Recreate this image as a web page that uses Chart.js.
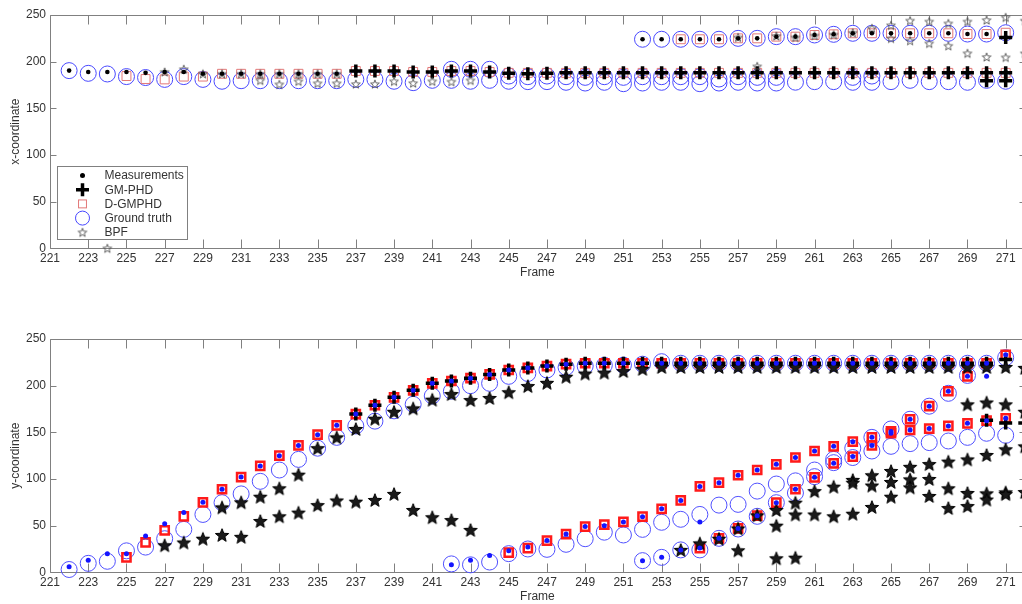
<!DOCTYPE html>
<html>
<head>
<meta charset="utf-8">
<script src="https://cdn.jsdelivr.net/npm/chart.js@4.4.1/dist/chart.umd.min.js"></script>
<style>
  html, body { margin: 0; padding: 0; background: #fff; overflow: hidden; width: 1022px; height: 604px; }
  canvas { position: absolute; left: 0; display: block; }
  #xPanel { top: 0; }
  #yPanel { top: 302px; }
</style>
</head>
<body>
<canvas id="xPanel" width="1040" height="302"></canvas>
<canvas id="yPanel" width="1040" height="310"></canvas>
<script>
// ---------- axis ticks ----------
const frameTicks = [221, 223, 225, 227, 229, 231, 233, 235, 237, 239, 241, 243, 245,
                    247, 249, 251, 253, 255, 257, 259, 261, 263, 265, 267, 269, 271];
const valueTicks = [0, 50, 100, 150, 200, 250];
const seriesNames = ['Measurements', 'GM-PHD', 'D-GMPHD', 'Ground truth', 'BPF'];

// ---------- x-coordinate panel (each array starts at the frame given next to it) ----------
const xTruthA = [190.4, 187.5, 186.8, 184, 183, 181, 184, 181, 179, 179.6,
                 179.6, 179.6, 179.6, 179.6, 179.6, 181, 181, 179, 177.5, 180,
                 180, 179, 180, 179, 178.6, 178.6, 177.9, 177.1, 177.9, 176.4,
                 177.1, 177.9, 177.9, 176.4, 177.1, 177.9, 177.1, 177.1, 178, 178.6,
                 178.6, 177.9, 177.9, 178.6, 180, 178.6, 178.6, 177.9, 180, 179];      // from 222
const xTruthA2 = [191.8, 191.8, 191.8, 184.6, 183.9, 184.6, 183.9, 183.2, 183.9, 183.2,
                  183.9, 183.9, 183.9, 183.9, 181.4, 183.9, 183.2, 183.2, null, null,
                  null, 183.2, 184.6];                                                  // from 242
const xTruthB = [224, 224, 224, 224, 224, 225, 225, 226.8, 226.8, 228.6,
                 229.3, 230.4, 230.4, 230.4, 230.4, 230.4, 230.4, 229.6, 229.6, 231];  // from 252
const xMeasA = [190.4, 189, 189, 189, 188, 189, 189, 187, 187, 187,
                187, 187, 187, 187, 187, 190, 190, 190, 189, 189,
                190, 190, 189, 187.5, 187, 187.5, 188, 188, 188, 188,
                188, 188, 188, 188, 188, 188, 189, 188, 188, 188,
                188, 188, 188, 188, 188, 188, 188, 188, 189, 189];                    // from 222
const xMeasB = [224, 224, 224, 224, 224, 225, 225, 226.8, 226.8, 228.6,
                229.3, 230.4, 230.4, 230.4, 230.4, 230.4, 230.4, 229.6, 229.6, 226];   // from 252
const xDgmA = [184.6, 181.4, 181, 184, 184, 187, 187, 187, 187, 187,
               187, 187, 190, 190, 190, 189, 189, 190, 190, 189,
               188, 188, 188, 188, 188, 188, 188, 188, 188, 188,
               188, 188, 188, 188, 188, 188, 188, 188, 188, 188,
               188, 188, 188, 188, 188, 188, 188];                                     // from 225
const xDgmB = [224, 224, 224, 225, 225, 226.8, 226.8, 228.6, 229.3, 230.4,
               230.4, 230.4, 230.4, 230.4, 230.4, 229.6, 229.6, 231];                  // from 254
const xGmA = [190, 190, 190, 189, 189, 190, 190, 189, 187.5, 187,
              187.5, 188, 188, 188, 188, 188, 188, 188, 188, 188,
              188, 188, 188, 188, 188, 188, 188, 188, 188, 188,
              188, 188, 188, 188, 188];                                                 // from 237
const xGmA2 = [179.6, 179.6];                                                           // from 270
const xGmB = [226];                                                                     // from 271
const xBpfLow = [180, 175.7, 179, 176.8, 176.8, 176, 176, 179, 177, 179, 178.6, 180];  // from 232
const xBpfMid = [0, null, null, 189, 192, 187, 187, 187, 187, 187, 187, 187, 187];     // from 224
const xBpfLone = [195];                                                                 // from 258
const xBpfUp = [226, null, 227.5, 226, 228, 229, 231, 235.7, 239, 244,
                243, 241, 243, 244.6, 247.5, 244];                                      // from 257
const xBpfUp2 = [225, 222.5, 219.6, 217, 209, 205, 204.6, 209];                         // from 265

// ---------- y-coordinate panel ----------
const yTruth1 = [3, 9.6, 11.8, 23, 27, 36, 46, 62, 74.6, 84,
                 97.5, 109.6, 121, 133, 144.6, 156.8, 162, 173, 180, 189,
                 194, 200, 202.5, 210, 213, 216.8, 219.6, 221, 221.8, 222,
                 223, 225.7, 224, 224, 224, 224, 224, 224, 224, 224,
                 224, 224, 224, 224, 224, 224, 224, 224, 224, 230];                     // from 222
const yMeas1 = [6, 13, 20, 20, 39, 52, 64, 75, 89, 102,
                114, 125, 136, 147.5, 157.5, 169.6, 179, 187.5, 195, 202.5,
                205, 208, 212, 216.8, 219, 221, 223, 224, 224, 224,
                224, 224, 224, 224, 224, 224, 224, 224, 224, 224,
                224, 224, 224, 224, 224, 224, 224, 224, 224, 233];                      // from 222
const yDgm1 = [16, 32, 45, 60, 75, 89, 102,
               114, 125, 136, 147.5, 157.5, 169.6, 179, 187.5, 195, 202.5,
               205, 208, 212, 216.8, 219, 221, 223, 224, 224, 224,
               224, 224, 224, 224, 224, 224, 224, 224, 224, 224,
               224, 224, 224, 224, 224, 224, 224, 224, 224, 233];                       // from 225
const yGm1 = [169.6, 179, 187.5, 195, 202.5,
              205, 208, 212, 216.8, 219, 221, 223, 224, 224, 224,
              224, 224, 224, 224, 224, 224, 224, 224, 224, 224,
              224, 224, 224, 224, 224, 224, 224, 224, 224, 228];                        // from 237
const yBpf1 = [69.6, 75, 81, 90, 104.6, 133, 144.6, 153.6, 164.6, 172,
               175.7, 185, 191, 184.6, 186.8, 193, 199.6, 203, 209.6, 213,
               214, 215.7, 218, 220, 220, 220, 220, 220, 220, 220,
               220, 220, 220, 220, 220, 220, 220, 220, 220, 220,
               220, 220, 219];                                                          // from 230
const yBpf2 = [29, 32, 36, 40, 38, 55, 60, 64, 72, 77, 75.7, 77.5, 84, 66.8, 59, 56, 45.4]; // from 227
const yTruth2 = [9, 8, 11, 20, 25, 24.6, 30, 36, 43, 40,
                 46, 53.6, 56.8, 62, 72, 72.8, 87, 94.6, 98, 109.6,
                 121, 133, 130, 135, 137.9, 139, 140.7, 144.6, 149, 146.8];            // from 242
const yMeas2 = [8, 13, 18, 23, 27, 34, 41, 49, 50, 54,
                59.6, 68, 77, 92, 96, 104, 109.6, 115.7, 123, 130,
                135, 140, 144.6, 149, 152.5, 154, 156.8, 159.6, 162.5, 165];            // from 242
const yDgm2 = [21, 26, 34, 41, 49, 51, 54,
               59.6, 68, 77, 92, 96, 104, 109.6, 115.7, 123, 130,
               135, 140, 144.6, 149, 152.5, 154, 156.8, 159.6, 162.5, 165];             // from 245
const yGm2 = [163, 160, 160];                                                           // from 270
const yTruth3 = [12.5, 16, 24, 24, 36.4, 46.4, 60, 74.6, 85, 102.5,
                 117.5, 123, 144.6, 153.6, 164, 178, 191.8, 211];                       // from 252
const yMeas3 = [12.5, 16, 24, 26, 36.4, 47, 60.7, 74.6, 89, 101.8,
                116.8, 124, 136, 151, 164, 178, 194, 210, 210];                         // from 252
const yMeasLone = [54];                                                                 // from 255
const yDgm3 = [26, 36.4, 47, 60.7, 74.6, 89, 101.8, 116.8, 124, 136, 151, 164, 178, 194, 210]; // from 255
const yBpf3 = [24, 31, 36, 47, 61, 66.8, 74.6, 87, 91.8, 99,
               104, 108.6, 113, 116, 118.6, 121, 125.7, 131.8, 135];                   // from 254
const yBpf4 = [23.6, null, 50, 62, 62, 60, 96, 93, 96.8, 99.6,
               100, 90, 85, 84.6, 85.7, 86];                                            // from 257
const yBpf5 = [15, 15.7, null, null, 62.8, 70, 81, 91, 81.8, 68.9, 71, 78, 83.9];       // from 259
const yBpf6 = [180, 182, 180, 172];                                                     // from 269

// ---------- helpers ----------
function track(start, values) {
  const out = [];
  values.forEach((v, i) => { if (v !== null) out.push({ x: start + i, y: v }); });
  return out;
}

function starSprite(outer, inner, fill, stroke, lw) {
  const pad = Math.ceil(lw) + 1;
  const size = Math.ceil(outer * 2 + pad * 2);
  const c = document.createElement('canvas');
  c.width = size; c.height = size;
  const g = c.getContext('2d');
  g.translate(size / 2, size / 2 + outer * 0.1);
  g.beginPath();
  for (let i = 0; i < 10; i++) {
    const r = i % 2 ? inner : outer;
    const a = -Math.PI / 2 + i * Math.PI / 5;
    g.lineTo(r * Math.cos(a), r * Math.sin(a));
  }
  g.closePath();
  if (fill) { g.fillStyle = fill; g.fill(); }
  if (stroke) { g.strokeStyle = stroke; g.lineWidth = lw; g.lineJoin = 'miter'; g.stroke(); }
  return c;
}

const FONT = { family: '"Liberation Sans", Arial, Helvetica, sans-serif', size: 12 };
const TEXT = '#333';

// marker styles for each panel
const xStyles = [
  { pointStyle: 'circle', pointRadius: 2.3, backgroundColor: '#000', borderColor: '#000', borderWidth: 0 },
  { pointStyle: 'cross', pointRadius: 6.5, backgroundColor: '#000', borderColor: '#000', borderWidth: 3.5 },
  { pointStyle: 'rect', pointRadius: 6.3, backgroundColor: 'rgba(0,0,0,0)', borderColor: '#e27878', borderWidth: 1 },
  { pointStyle: 'circle', pointRadius: 8, backgroundColor: 'rgba(0,0,0,0)', borderColor: '#4848ff', borderWidth: 1 },
  { pointStyle: starSprite(4.6, 1.9, null, '#555', 0.9), pointRadius: 5, backgroundColor: 'rgba(0,0,0,0)', borderColor: '#555', borderWidth: 0 }
];
const yStyles = [
  { pointStyle: 'circle', pointRadius: 2.5, backgroundColor: '#1414ff', borderColor: '#1414ff', borderWidth: 0 },
  { pointStyle: 'cross', pointRadius: 6.5, backgroundColor: '#000', borderColor: '#000', borderWidth: 3.5 },
  { pointStyle: 'rect', pointRadius: 5.8, backgroundColor: 'rgba(0,0,0,0)', borderColor: '#ff1a1a', borderWidth: 2.5 },
  { pointStyle: 'circle', pointRadius: 8, backgroundColor: 'rgba(0,0,0,0)', borderColor: '#5050ff', borderWidth: 1 },
  { pointStyle: starSprite(7, 3, '#1a1a1a', '#000', 1), pointRadius: 7, backgroundColor: '#000', borderColor: '#000', borderWidth: 0 }
];
// drawing order: dots on top, then stars, plus, squares, circles underneath
const drawOrder = [0, 2, 3, 4, 1];

function makeDatasets(pointsBySeries, styles) {
  return pointsBySeries.map((pts, i) => {
    const s = styles[i];
    return {
      label: seriesNames[i],
      data: pts,
      showLine: false,
      clip: false,
      order: drawOrder[i],
      pointStyle: s.pointStyle,
      pointRadius: s.pointRadius,
      pointHoverRadius: s.pointRadius,
      pointBackgroundColor: s.backgroundColor,
      pointBorderColor: s.borderColor,
      pointBorderWidth: s.borderWidth,
      backgroundColor: s.backgroundColor,
      borderColor: s.borderColor,
      borderWidth: s.borderWidth
    };
  });
}

// box with inward tick marks on all four sides
const boxFrame = {
  id: 'boxFrame',
  beforeDatasetsDraw(chart) {
    const { ctx, chartArea: a, scales: { x, y } } = chart;
    const L = Math.round(a.left) + 0.5, R = Math.round(a.right) + 0.5;
    const T = Math.round(a.top) + 0.5, B = Math.round(a.bottom) + 0.5;
    ctx.save();
    ctx.strokeStyle = '#808080';
    ctx.lineWidth = 1;
    ctx.beginPath();
    ctx.rect(L, T, R - L, B - T);
    x.ticks.forEach(t => {
      const px = Math.round(x.getPixelForValue(t.value)) + 0.5;
      ctx.moveTo(px, B); ctx.lineTo(px, B - 9);
      ctx.moveTo(px, T); ctx.lineTo(px, T + 9);
    });
    y.ticks.forEach(t => {
      const py = Math.round(y.getPixelForValue(t.value)) + 0.5;
      ctx.moveTo(L, py); ctx.lineTo(L + 6, py);
      ctx.moveTo(R, py); ctx.lineTo(R - 6, py);
    });
    ctx.stroke();
    ctx.restore();
  }
};

function drawMarker(ctx, s, x, y, r) {
  ctx.save();
  if (s.pointStyle instanceof HTMLCanvasElement) {
    ctx.drawImage(s.pointStyle, x - s.pointStyle.width / 2, y - s.pointStyle.height / 2);
  } else if (s.pointStyle === 'circle') {
    ctx.beginPath();
    ctx.arc(x, y, r, 0, Math.PI * 2);
    ctx.fillStyle = s.backgroundColor; ctx.fill();
    if (s.borderWidth > 0) { ctx.strokeStyle = s.borderColor; ctx.lineWidth = s.borderWidth; ctx.stroke(); }
  } else if (s.pointStyle === 'cross') {
    ctx.beginPath();
    ctx.moveTo(x - r, y); ctx.lineTo(x + r, y);
    ctx.moveTo(x, y - r); ctx.lineTo(x, y + r);
    ctx.strokeStyle = s.borderColor; ctx.lineWidth = s.borderWidth; ctx.stroke();
  } else if (s.pointStyle === 'rect') {
    const h = r * Math.SQRT1_2;
    ctx.strokeStyle = s.borderColor; ctx.lineWidth = s.borderWidth;
    ctx.strokeRect(x - h, y - h, 2 * h, 2 * h);
  }
  ctx.restore();
}

// legend drawn inside the lower-left corner of the x-coordinate panel
const boxLegend = {
  id: 'boxLegend',
  afterDraw(chart) {
    const { ctx, chartArea: a } = chart;
    const bx = Math.round(a.left) + 7.5, by = Math.round(a.bottom) - 81.5;
    const bw = 130, bh = 73;
    ctx.save();
    ctx.fillStyle = '#fff';
    ctx.fillRect(bx, by, bw, bh);
    ctx.strokeStyle = '#808080';
    ctx.lineWidth = 1;
    ctx.strokeRect(bx, by, bw, bh);
    const legendRadius = [2.5, 6.5, 5.6, 7, 5];
    ctx.font = FONT.size + 'px ' + FONT.family;
    ctx.textBaseline = 'middle';
    ctx.textAlign = 'left';
    chart.data.datasets.forEach((ds, i) => {
      const cy = by + 9 + i * 14.2;
      drawMarker(ctx, xStyles[i], bx + 25, cy, legendRadius[i]);
      ctx.fillStyle = TEXT;
      ctx.fillText(ds.label, bx + 47, cy + 0.5);
    });
    ctx.restore();
  }
};

function panelOptions(yTitle, pad, xAxisHeight) {
  return {
    responsive: false,
    animation: false,
    devicePixelRatio: 1,
    layout: { padding: pad },
    plugins: { legend: { display: false }, tooltip: { enabled: false } },
    events: [],
    scales: {
      x: {
        type: 'linear',
        min: 221,
        max: 272,
        afterBuildTicks: s => { s.ticks = frameTicks.map(v => ({ value: v })); },
        afterFit: s => { s.height = xAxisHeight; },
        grid: { display: false, drawTicks: false },
        border: { display: false },
        ticks: { font: FONT, color: TEXT, padding: 3, maxRotation: 0, autoSkip: false, callback: v => String(v) },
        title: { display: true, text: 'Frame', font: FONT, color: TEXT, padding: { top: 0, bottom: 0 } }
      },
      y: {
        type: 'linear',
        min: 0,
        max: 250,
        afterBuildTicks: s => { s.ticks = valueTicks.map(v => ({ value: v })); },
        afterFit: s => { s.width = 50; },
        grid: { display: false, drawTicks: false },
        border: { display: false },
        ticks: { font: FONT, color: TEXT, padding: 4, callback: v => String(v) },
        title: { display: true, text: yTitle, font: FONT, color: TEXT, padding: { top: 8, bottom: 0 } }
      }
    }
  };
}

// ---------- x-coordinate chart ----------
const xSeries = [
  [...track(222, xMeasA), ...track(252, xMeasB)],
  [...track(237, xGmA), ...track(270, xGmA2), ...track(271, xGmB)],
  [...track(225, xDgmA), ...track(254, xDgmB)],
  [...track(222, xTruthA), ...track(242, xTruthA2), ...track(252, xTruthB)],
  [...track(232, xBpfLow), ...track(224, xBpfMid), ...track(258, xBpfLone), ...track(257, xBpfUp), ...track(265, xBpfUp2)]
];
new Chart(document.getElementById('xPanel'), {
  type: 'scatter',
  data: { datasets: makeDatasets(xSeries, xStyles) },
  options: panelOptions('x-coordinate', { left: 0, top: 15, right: 15.2, bottom: 22 }, 31.7),
  plugins: [boxFrame, boxLegend]
});

// ---------- y-coordinate chart ----------
const ySeries = [
  [...track(222, yMeas1), ...track(242, yMeas2), ...track(252, yMeas3), ...track(255, yMeasLone)],
  [...track(237, yGm1), ...track(270, yGm2)],
  [...track(225, yDgm1), ...track(245, yDgm2), ...track(255, yDgm3)],
  [...track(222, yTruth1), ...track(242, yTruth2), ...track(252, yTruth3)],
  [...track(230, yBpf1), ...track(227, yBpf2), ...track(254, yBpf3), ...track(257, yBpf4), ...track(259, yBpf5), ...track(269, yBpf6)]
];
new Chart(document.getElementById('yPanel'), {
  type: 'scatter',
  data: { datasets: makeDatasets(ySeries, yStyles) },
  options: panelOptions('y-coordinate', { left: 0, top: 37, right: 15.2, bottom: 7.8 }, 31.9),
  plugins: [boxFrame]
});
</script>
</body>
</html>
